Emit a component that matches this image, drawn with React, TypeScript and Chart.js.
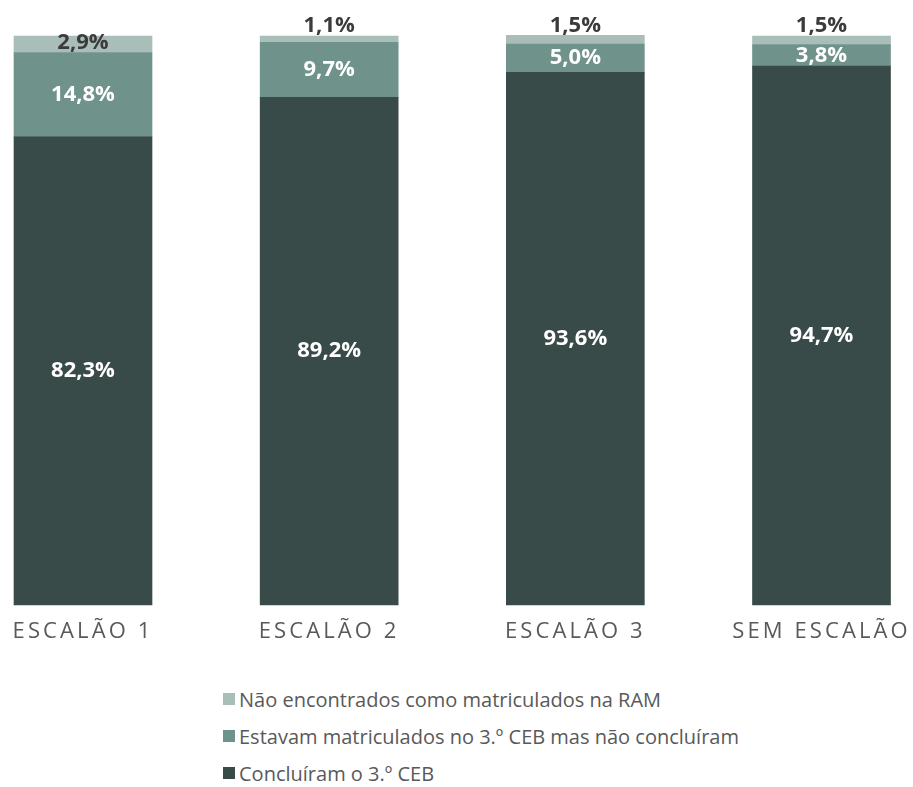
import React, { useEffect, useRef } from "react";
import { Chart, registerables } from "chart.js";

Chart.register(...registerables);

const categories = ["ESCALÃO 1", "ESCALÃO 2", "ESCALÃO 3", "SEM ESCALÃO"];
const concluiram = [82.3, 89.2, 93.6, 94.7];
const naoConcluiram = [14.8, 9.7, 5.0, 3.8];
const naoEncontrados = [2.9, 1.1, 1.5, 1.5];
const seriesLabels = [
  "Concluíram o 3.º CEB",
  "Estavam matriculados no 3.º CEB mas não concluíram",
  "Não encontrados como matriculados na RAM",
];
const seriesColors = ["#394b48", "#6f928a", "#a9bdb9"];
const labelColors = ["#ffffff", "#ffffff", "#3b3b3b"];

const W = 913;
const H = 660;

const fmt = (v: number) => v.toFixed(1).replace(".", ",") + "%";

const letterSpacingPlugin = {
  id: "axisLetterSpacing",
  beforeDraw(chart: any) {
    (chart.ctx as any).letterSpacing = "3.1px";
  },
  beforeDatasetsDraw(chart: any) {
    (chart.ctx as any).letterSpacing = "0px";
  },
};

const dataLabelPlugin = {
  id: "dataLabels",
  afterDatasetsDraw(chart: any) {
    const ctx = chart.ctx;
    ctx.save();
    (ctx as any).letterSpacing = "0px";
    ctx.font = "bold 22px 'Open Sans'";
    ctx.textAlign = "center";
    ctx.textBaseline = "middle";
    chart.data.datasets.forEach((ds: any, di: number) => {
      const meta = chart.getDatasetMeta(di);
      meta.data.forEach((el: any, i: number) => {
        const v = ds.data[i] as number;
        const top = Math.min(el.y, el.base);
        const bottom = Math.max(el.y, el.base);
        let y = (top + bottom) / 2;
        if (di === 2) {
          y = bottom - top < 12 ? top - 10 : y - 2;
        }
        ctx.fillStyle = labelColors[di];
        ctx.fillText(fmt(v), el.x, y);
      });
    });
    ctx.restore();
  },
};

export default function App() {
  const ref = useRef<HTMLCanvasElement | null>(null);

  useEffect(() => {
    if (!ref.current) return;
    const datasets = [concluiram, naoConcluiram, naoEncontrados].map((d, i) => ({
      label: seriesLabels[i],
      data: d,
      backgroundColor: seriesColors[i],
      borderWidth: 0,
      barThickness: 138,
      clip: false as any,
    }));
    const chart = new Chart(ref.current, {
      type: "bar",
      data: { labels: categories, datasets },
      options: {
        animation: false,
        responsive: false,
        devicePixelRatio: 1,
        layout: { padding: { top: 36, left: 83, right: 91.5, bottom: 0 } },
        plugins: {
          legend: { display: false },
          tooltip: { enabled: false },
        },
        scales: {
          x: {
            stacked: true,
            offset: false,
            border: { display: false },
            grid: { display: false, drawTicks: false },
            ticks: {
              color: "#595959",
              font: { family: "'Open Sans'", size: 22, weight: 400 as any },
              padding: 14,
              maxRotation: 0,
              autoSkip: false,
            },
            afterFit: (scale: any) => {
              scale.paddingLeft = 0;
              scale.paddingRight = 0;
              scale.height = H - 605;
            },
          },
          y: {
            stacked: true,
            display: false,
            min: 0,
            max: 100,
          },
        },
      },
      plugins: [letterSpacingPlugin, dataLabelPlugin],
    });
    return () => chart.destroy();
  }, []);

  const legendItems = [2, 1, 0];
  const rowCenters = [699, 736, 773];

  return (
    <div
      style={{
        position: "absolute",
        left: 0,
        top: 0,
        width: W,
        height: 787,
        background: "#ffffff",
        overflow: "hidden",
      }}
    >
      <canvas ref={ref} width={W} height={H} style={{ display: "block" }} />
      {legendItems.map((si, r) => (
        <div
          key={si}
          style={{
            position: "absolute",
            left: 223,
            top: rowCenters[r] - 14,
            height: 28,
            display: "flex",
            alignItems: "center",
            fontFamily: "'Open Sans', sans-serif",
            fontSize: 20,
            color: "#595959",
            whiteSpace: "nowrap",
          }}
        >
          <span
            style={{
              display: "inline-block",
              width: 12,
              height: 12,
              background: seriesColors[si],
              marginRight: 4,
            }}
          />
          <span>{seriesLabels[si]}</span>
        </div>
      ))}
    </div>
  );
}
